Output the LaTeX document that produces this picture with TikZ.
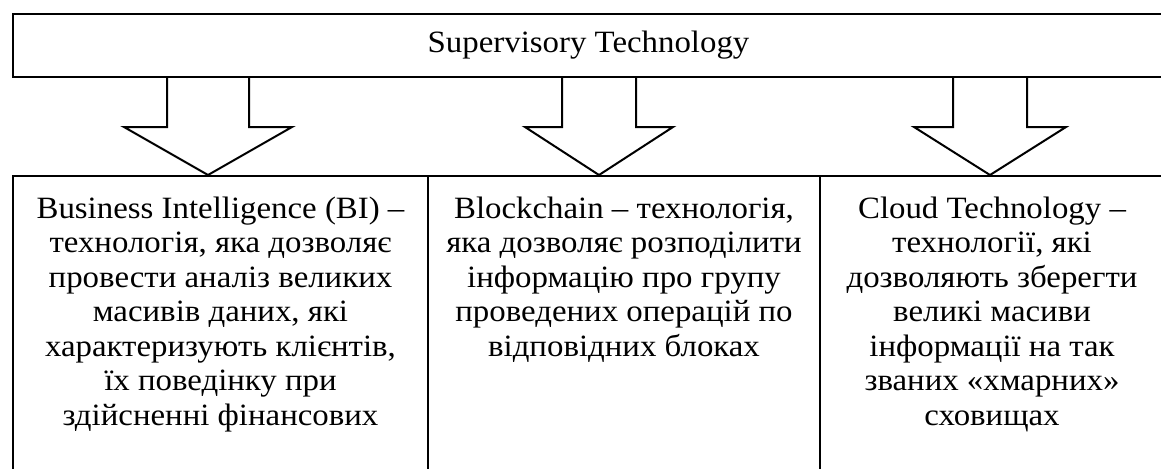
\documentclass[tikz,border=0pt]{standalone}
\usepackage{fontspec}
\setmainfont{Liberation Serif}[FakeStretch=1.06]
\usetikzlibrary{calc}

\tikzset{
  techbox/.style={draw, line width=1pt, anchor=north west, inner xsep=0pt, inner ysep=0pt,
    text height=21pt, text depth=150pt, font=\fontsize{15.5}{17.25}\selectfont},
  blockarrow/.style={draw, line width=1pt, line join=miter},
}

\begin{document}
\begin{tikzpicture}[x=0.5pt, y=-0.5pt]
        \useasboundingbox (0,0) rectangle (1161,468);
        \clip (0,0) rectangle (1161,468);

        \node[draw, line width=1pt, anchor=north west, inner sep=0pt, minimum width=575.5pt, minimum height=31.75pt,
          font=\fontsize{15.5}{17.25}\selectfont](supervisory) at (12,12.5) {Supervisory Technology};

        \node[techbox](bi) at (12,175) {\parbox[t]{207.5pt}{\centering
          Business Intelligence (BI) –\\технологія, яка дозволяє\\провести аналіз великих\\масивів даних, які\\характеризують клієнтів,\\їх поведінку при\\здійсненні фінансових}};
        \node[techbox](blockchain) at (427,175) {\parbox[t]{196pt}{\centering
          Blockchain – технологія,\\яка дозволяє розподілити\\інформацію про групу\\проведених операцій по\\відповідних блоках}};
        \node[techbox](cloud) at (819,175) {\parbox[t]{172pt}{\centering
          Cloud Technology –\\технології, які\\дозволяють зберегти\\великі масиви\\інформації на так\\званих «хмарних»\\сховищах}};

        \foreach \tipx/\sw/\hw/\target in {208/41/84/bi, 599/37/74/blockchain, 990/37/76/cloud}{
          \coordinate (top) at (\tipx,0 |- supervisory.south);
          \coordinate (tip) at (\tipx,0 |- \target.north);
          \draw[blockarrow] ($(top)+(-\sw,0)$) -- ++(0,49) -- ++(\sw-\hw,0) -- (tip)
            -- ($(top)+(\hw,49)$) -- ++(\sw-\hw,0) -- ($(top)+(\sw,0)$);
        }
\end{tikzpicture}
\end{document}
